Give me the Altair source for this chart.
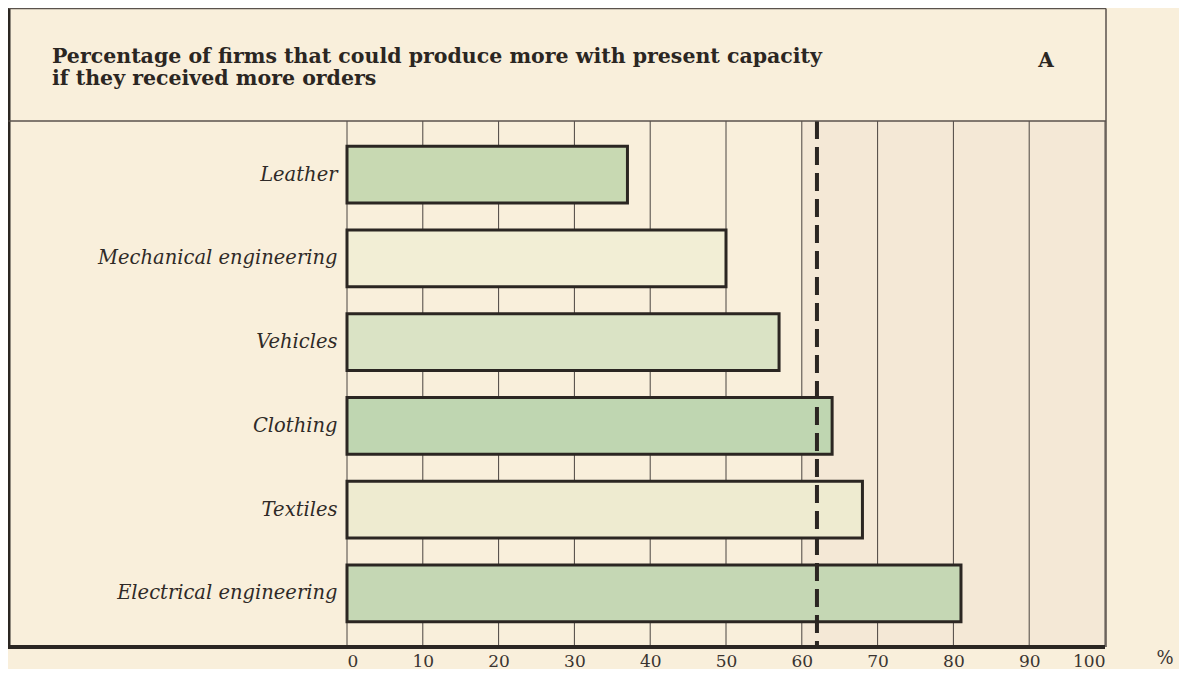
import altair as alt
import pandas as pd

# ---- data ----
categories = ["Leather", "Mechanical engineering", "Vehicles", "Clothing",
              "Textiles", "Electrical engineering"]
values = [37, 50, 57, 64, 68, 81]
bar_fills = ["#C8D9B2", "#F2EED5", "#DAE3C5", "#BFD6B1", "#EEEBD0", "#C5D7B4"]
average_value = 62
shade_from, shade_to = 60, 100
x_ticks = [0, 10, 20, 30, 40, 50, 60, 70, 80, 90, 100]
title_lines = ["Percentage of firms that could produce more with present capacity",
               "if they received more orders"]
panel_letter = "A"
unit_label = "%"

# ---- layout (pixels) ----
W, H = 758, 526          # plot area
PAD_L, PAD_T = 339, 113  # offset of plot area inside the chart
PAD_R, PAD_B = 74, 22
FRAME_L = -338.5
FRAME_T = -112.5
BG = "#F9EFDB"
INK = "#2B2622"
SERIF = "DejaVu Serif"

df = pd.DataFrame({"category": categories, "value": values})
one = pd.DataFrame({"k": [0]})

x_scale = alt.Scale(domain=[0, 100], nice=False, zero=True)
y_scale = alt.Scale(domain=categories, paddingInner=0.32, paddingOuter=0.3)

shade = alt.Chart(pd.DataFrame({"a": [shade_from], "b": [shade_to]})).mark_rect(
    color="#F4E8D6"
).encode(x=alt.X("a:Q", scale=x_scale), x2="b:Q")

grid = alt.Chart(pd.DataFrame({"t": x_ticks})).mark_rule(
    color="#4A4440", strokeWidth=1
).encode(x=alt.X("t:Q", scale=x_scale))

bars = alt.Chart(df).mark_bar(stroke=INK, strokeWidth=3, strokeJoin="miter").encode(
    x=alt.X("value:Q", scale=x_scale,
            axis=alt.Axis(values=x_ticks, grid=False, ticks=False, domain=False,
                          labelPadding=19, labelBaseline="alphabetic",
                          labelFontSize=17, labelColor="#3A3430",
                          labelFont=SERIF, title=None)),
    y=alt.Y("category:N", scale=y_scale, sort=categories,
            axis=alt.Axis(ticks=False, domain=False, labelPadding=10,
                          labelFontSize=19.5, labelFontStyle="italic",
                          labelFont=SERIF, labelColor="#2F2A27",
                          title=None, labelLimit=400)),
    fill=alt.Fill("category:N", scale=alt.Scale(domain=categories, range=bar_fills),
                  legend=None),
)

avg = alt.Chart(pd.DataFrame({"avg": [average_value]})).mark_rule(
    color=INK, strokeWidth=4, strokeDash=[18, 8]
).encode(x=alt.X("avg:Q", scale=x_scale))

# frame lines
left_line = alt.Chart(one).mark_rule(color=INK, strokeWidth=4).encode(
    x=alt.value(FRAME_L), y=alt.value(FRAME_T - 1), y2=alt.value(H + 2))
top_line = alt.Chart(one).mark_rule(color="#5A524C", strokeWidth=1.5).encode(
    x=alt.value(FRAME_L), x2=alt.value(W + 1), y=alt.value(FRAME_T))
right_line = alt.Chart(one).mark_rule(color="#5A524C", strokeWidth=1.5).encode(
    x=alt.value(W + 1), y=alt.value(FRAME_T), y2=alt.value(H))
title_sep = alt.Chart(one).mark_rule(color="#5A524C", strokeWidth=1.5).encode(
    x=alt.value(FRAME_L), x2=alt.value(W + 1), y=alt.value(0))
bottom_line = alt.Chart(one).mark_rule(color=INK, strokeWidth=4).encode(
    x=alt.value(FRAME_L - 2), x2=alt.value(W), y=alt.value(H))

title_text = alt.Chart(one).mark_text(
    text=title_lines, align="left", baseline="alphabetic", font=SERIF,
    fontWeight="bold", fontSize=20.5, lineHeight=22, color="#2B2622"
).encode(x=alt.value(-295), y=alt.value(-58))

letter = alt.Chart(one).mark_text(
    text=panel_letter, align="center", baseline="alphabetic", font=SERIF,
    fontWeight="bold", fontSize=20, color="#2B2622"
).encode(x=alt.value(699), y=alt.value(-54))

unit = alt.Chart(one).mark_text(
    text=unit_label, align="center", baseline="alphabetic", font=SERIF,
    fontSize=18, color="#3A3430"
).encode(x=alt.value(818), y=alt.value(543))

chart = alt.layer(
    shade, grid, bars, avg, left_line, top_line, right_line, title_sep, bottom_line,
    title_text, letter, unit
).properties(
    width=W, height=H,
    autosize=alt.AutoSizeParams(type="none"),
    padding={"left": PAD_L, "top": PAD_T, "right": PAD_R, "bottom": PAD_B},
    background=BG,
).configure_view(stroke=None)

chart.save("out.html", embed_options={"renderer": "svg", "actions": False})
